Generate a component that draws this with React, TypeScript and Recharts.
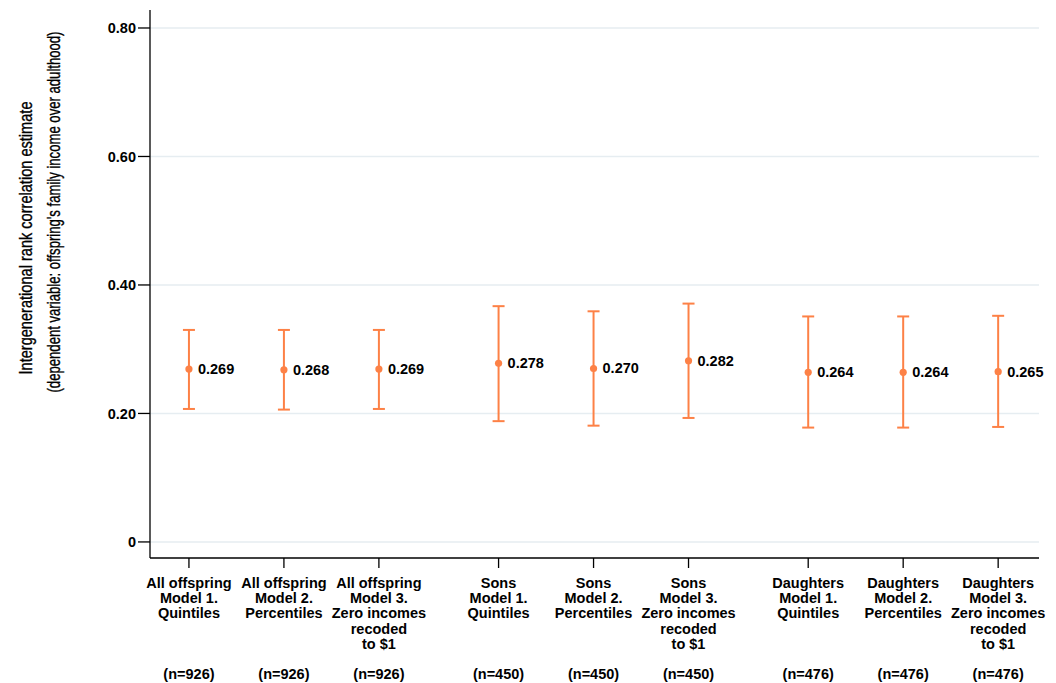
import { ScatterChart, Scatter, XAxis, YAxis, ReferenceLine, ErrorBar, Customized } from 'recharts';

// estimates with 95% CIs, three model variants per sample
const groups = ['All offspring', 'All offspring', 'All offspring', 'Sons', 'Sons', 'Sons', 'Daughters', 'Daughters', 'Daughters'];
const models = ['Model 1.', 'Model 2.', 'Model 3.', 'Model 1.', 'Model 2.', 'Model 3.', 'Model 1.', 'Model 2.', 'Model 3.'];
const specs = [
  ['Quintiles'],
  ['Percentiles'],
  ['Zero incomes', 'recoded', 'to $1'],
  ['Quintiles'],
  ['Percentiles'],
  ['Zero incomes', 'recoded', 'to $1'],
  ['Quintiles'],
  ['Percentiles'],
  ['Zero incomes', 'recoded', 'to $1'],
];
const sampleSizes = [926, 926, 926, 450, 450, 450, 476, 476, 476];
// x slots, with a small gap between samples
const positions = [1, 2, 3, 4.26, 5.26, 6.26, 7.52, 8.52, 9.52];
const estimates = [0.269, 0.268, 0.269, 0.278, 0.270, 0.282, 0.264, 0.264, 0.265];
const lower = [0.207, 0.206, 0.207, 0.188, 0.181, 0.193, 0.178, 0.178, 0.179];
const upper = [0.330, 0.330, 0.330, 0.367, 0.359, 0.371, 0.351, 0.351, 0.352];
const yTicks = [0, 0.2, 0.4, 0.6, 0.8];

const rows = positions.map((x, i) => ({
  x,
  est: estimates[i],
  err: [estimates[i] - lower[i], upper[i] - estimates[i]],
}));

const ORANGE = '#fd8146';
const FONT = '"Liberation Sans", Arial, sans-serif';

const Point = (props: any) => {
  const { cx, cy, payload } = props;
  return (
    <g>
      <circle cx={cx} cy={cy} r={3.6} fill={ORANGE} />
      <text x={cx + 9} y={cy + 5} fontFamily={FONT} fontWeight="bold" fontSize={14.5} fill="#000">
        {payload.est.toFixed(3)}
      </text>
    </g>
  );
};

const CategoryTick = (props: any) => {
  const { x, y, payload } = props;
  const i = positions.findIndex((p) => Math.abs(p - payload.value) < 1e-6);
  if (i < 0) return null;
  const lines = [groups[i], models[i], ...specs[i]];
  const base = y + 18;
  return (
    <g>
      <text textAnchor="middle" fontFamily={FONT} fontWeight="bold" fontSize={14.5} fill="#000">
        {lines.map((t, k) => (
          <tspan key={k} x={x} y={base + k * 15.2}>{t}</tspan>
        ))}
        <tspan x={x} y={base + 6 * 15.2}>{`(n=${sampleSizes[i]})`}</tspan>
      </text>
    </g>
  );
};

// two-line rotated y title, squeezed to a condensed width
const AxisTitle = () => (
  <g fontFamily={FONT} fontSize={19} fill="#000" stroke="#000" strokeWidth={0.35}>
    <text transform="translate(32,238) rotate(-90)" textAnchor="middle" textLength={273} lengthAdjust="spacingAndGlyphs">
      Intergenerational rank correlation estimate
    </text>
    <text transform="translate(60,212) rotate(-90)" textAnchor="middle" textLength={361} lengthAdjust="spacingAndGlyphs">
      (dependent variable: offspring's family income over adulthood)
    </text>
  </g>
);

export default function App() {
  return (
    <div style={{ position: 'absolute', left: 0, top: 0, background: '#fff' }}>
      <ScatterChart width={1056} height={683} margin={{ top: 10, right: 17, left: 80, bottom: 15 }}>
        <XAxis
          type="number"
          dataKey="x"
          domain={[0.59, 9.95]}
          ticks={positions}
          interval={0}
          height={110}
          tickSize={10}
          axisLine={{ stroke: '#000', strokeWidth: 1.3 }}
          tickLine={{ stroke: '#000', strokeWidth: 1.3 }}
          tick={<CategoryTick />}
        />
        <YAxis
          type="number"
          dataKey="est"
          domain={[-0.025, 0.828]}
          ticks={yTicks}
          width={70}
          tickSize={12}
          tickFormatter={(v: number) => (v === 0 ? '0' : v.toFixed(2))}
          axisLine={{ stroke: '#000', strokeWidth: 1.3 }}
          tickLine={{ stroke: '#000', strokeWidth: 1.3 }}
          tick={{ fill: '#000', fontSize: 14.5, fontWeight: 'bold', fontFamily: FONT }}
        />
        {yTicks.map((t) => (
          <ReferenceLine key={t} y={t} stroke="#e6edf1" strokeWidth={1.6} />
        ))}
        <Scatter data={rows} dataKey="est" shape={<Point />} isAnimationActive={false}>
          <ErrorBar dataKey="err" direction="y" width={6} stroke={ORANGE} strokeWidth={2} isAnimationActive={false} />
        </Scatter>
        <Customized component={AxisTitle} />
      </ScatterChart>
    </div>
  );
}
